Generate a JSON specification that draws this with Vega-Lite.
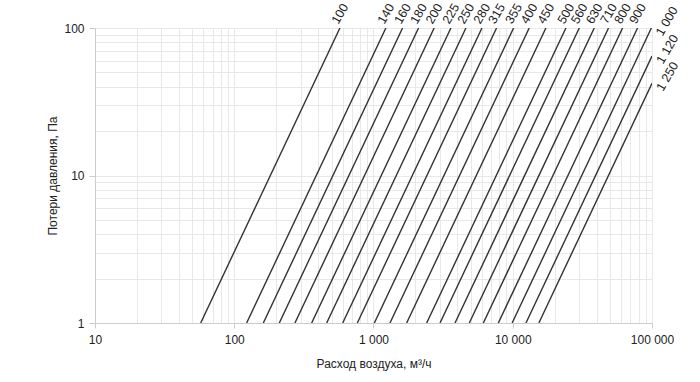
{
  "$schema": "https://vega.github.io/schema/vega-lite/v6.json",
  "width": 557,
  "height": 295,
  "autosize": {"type": "none"},
  "padding": {"left": 95, "top": 28, "right": 48, "bottom": 59},
  "background": "white",
  "config": {
    "font": "Liberation Sans",
    "view": {"stroke": null},
    "axis": {
      "gridColor": "#e8e8e8",
      "gridWidth": 1,
      "domainColor": "#cccccc",
      "tickColor": "#cccccc",
      "labelFontSize": 12,
      "labelColor": "#222222",
      "titleFontSize": 12,
      "titleFontWeight": "normal",
      "titleColor": "#222222",
      "labelFlush": false,
      "labelOverlap": false,
      "labelBound": false
    }
  },
  "datasets": {
    "lines": [
      {"d": 100, "label": "100", "q": 57.4, "p": 1}, {"d": 100, "label": "100", "q": 574, "p": 100},
      {"d": 140, "label": "140", "q": 122.7, "p": 1}, {"d": 140, "label": "140", "q": 1227, "p": 100},
      {"d": 160, "label": "160", "q": 161.7, "p": 1}, {"d": 160, "label": "160", "q": 1617, "p": 100},
      {"d": 180, "label": "180", "q": 210.6, "p": 1}, {"d": 180, "label": "180", "q": 2106, "p": 100},
      {"d": 200, "label": "200", "q": 272.7, "p": 1}, {"d": 200, "label": "200", "q": 2727, "p": 100},
      {"d": 225, "label": "225", "q": 359.6, "p": 1}, {"d": 225, "label": "225", "q": 3596, "p": 100},
      {"d": 250, "label": "250", "q": 461, "p": 1}, {"d": 250, "label": "250", "q": 4610, "p": 100},
      {"d": 280, "label": "280", "q": 601, "p": 1}, {"d": 280, "label": "280", "q": 6010, "p": 100},
      {"d": 315, "label": "315", "q": 765, "p": 1}, {"d": 315, "label": "315", "q": 7650, "p": 100},
      {"d": 355, "label": "355", "q": 1014, "p": 1}, {"d": 355, "label": "355", "q": 10140, "p": 100},
      {"d": 400, "label": "400", "q": 1313, "p": 1}, {"d": 400, "label": "400", "q": 13130, "p": 100},
      {"d": 450, "label": "450", "q": 1730, "p": 1}, {"d": 450, "label": "450", "q": 17300, "p": 100},
      {"d": 500, "label": "500", "q": 2409, "p": 1}, {"d": 500, "label": "500", "q": 24090, "p": 100},
      {"d": 560, "label": "560", "q": 3004, "p": 1}, {"d": 560, "label": "560", "q": 30040, "p": 100},
      {"d": 630, "label": "630", "q": 3849, "p": 1}, {"d": 630, "label": "630", "q": 38490, "p": 100},
      {"d": 710, "label": "710", "q": 4874, "p": 1}, {"d": 710, "label": "710", "q": 48740, "p": 100},
      {"d": 800, "label": "800", "q": 6148, "p": 1}, {"d": 800, "label": "800", "q": 61480, "p": 100},
      {"d": 900, "label": "900", "q": 7877, "p": 1}, {"d": 900, "label": "900", "q": 78770, "p": 100},
      {"d": 1000, "label": "1 000", "q": 9900, "p": 1}, {"d": 1000, "label": "1 000", "q": 99000, "p": 100},
      {"d": 1120, "label": "1 120", "q": 12440, "p": 1}, {"d": 1120, "label": "1 120", "q": 100000, "p": 64.6},
      {"d": 1250, "label": "1 250", "q": 15400, "p": 1}, {"d": 1250, "label": "1 250", "q": 100000, "p": 42.2}
    ]
  },
  "data": {"name": "lines"},
  "encoding": {
    "x": {
      "field": "q",
      "type": "quantitative",
      "scale": {"type": "log", "domain": [10, 100000], "nice": false},
      "axis": {
        "title": "Расход воздуха, м³/ч",
        "values": [10,20,30,40,50,60,70,80,90,100,200,300,400,500,600,700,800,900,1000,2000,3000,4000,5000,6000,7000,8000,9000,10000,20000,30000,40000,50000,60000,70000,80000,90000,100000],
        "labelExpr": "datum.value == 10 ? '10' : datum.value == 100 ? '100' : datum.value == 1000 ? '1 000' : datum.value == 10000 ? '10 000' : datum.value == 100000 ? '100 000' : ''",
        "tickSize": 5,
        "tickOpacity": {"condition": {"test": "indexof([10,100,1000,10000,100000], datum.value) >= 0", "value": 1}, "value": 0},
        "labelPadding": 6,
        "titlePadding": 13
      }
    },
    "y": {
      "field": "p",
      "type": "quantitative",
      "scale": {"type": "log", "domain": [1, 100], "nice": false},
      "axis": {
        "title": "Потери давления, Па",
        "values": [1,2,3,4,5,6,7,8,9,10,20,30,40,50,60,70,80,90,100],
        "labelExpr": "datum.value == 1 ? '1' : datum.value == 10 ? '10' : datum.value == 100 ? '100' : ''",
        "tickSize": 6,
        "tickOpacity": {"condition": {"test": "indexof([1,10,100], datum.value) >= 0", "value": 1}, "value": 0},
        "labelPadding": 5,
        "titlePadding": 4
      }
    }
  },
  "layer": [
    {
      "mark": {"type": "line", "color": "#333333", "strokeWidth": 1.4, "clip": true},
      "encoding": {"detail": {"field": "d"}}
    },
    {
      "transform": [{"filter": "datum.p > 1 && datum.d < 1000"}],
      "mark": {"type": "text", "angle": 300, "align": "left", "baseline": "alphabetic", "fontSize": 12.5, "color": "#222222", "dx": 2, "dy": -3},
      "encoding": {"text": {"field": "label"}}
    },
    {
      "transform": [{"filter": "datum.p > 1 && datum.d >= 1000"}],
      "mark": {"type": "text", "angle": 300, "align": "left", "baseline": "top", "fontSize": 12.5, "color": "#222222", "dx": -2, "dy": 4},
      "encoding": {"text": {"field": "label"}}
    }
  ]
}
